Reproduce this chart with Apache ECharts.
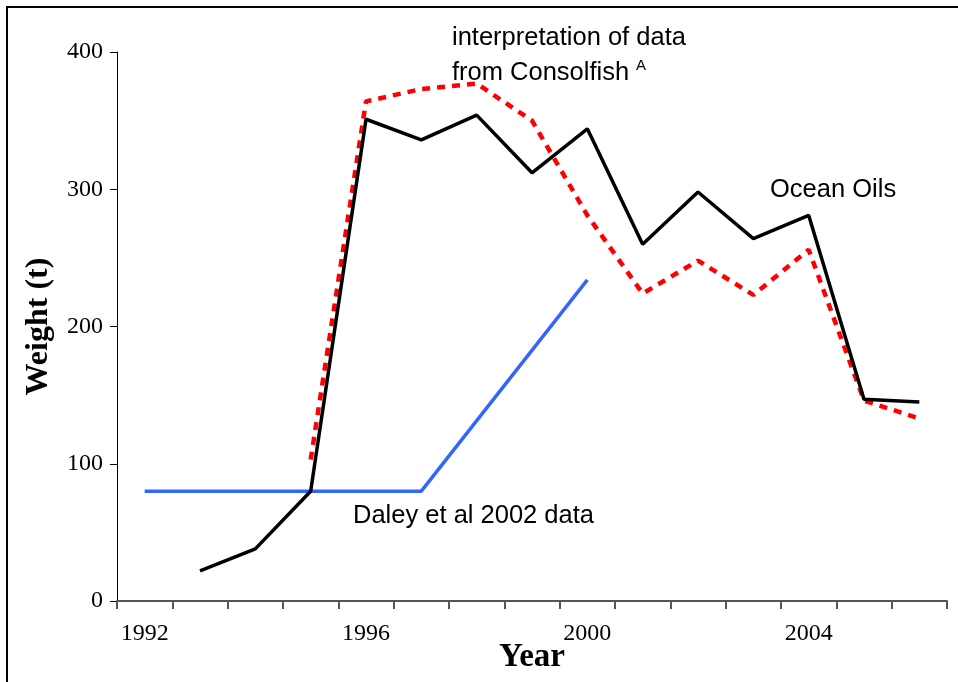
<!DOCTYPE html>
<html>
<head>
<meta charset="utf-8">
<script src="https://cdn.jsdelivr.net/npm/echarts@6/dist/echarts.min.js"></script>
<style>
  html, body { margin: 0; padding: 0; background: #fff; }
  #chart { width: 958px; height: 682px; }
</style>
</head>
<body>
<div id="chart"></div>
<script>
// years on the category axis
var years = ['1992', '1993', '1994', '1995', '1996', '1997', '1998', '1999',
             '2000', '2001', '2002', '2003', '2004', '2005', '2006'];

// Ocean Oils (solid black)
var oceanOils = [null, 22, 38, 80, 351, 336, 354, 312, 344, 260, 298, 264, 281, 147, 145];

// interpretation of data from Consolfish (red dashed)
var consolfish = [null, null, null, 103, 364, 373, 377, 350, 281, 224, 248, 223, 256, 146, 133];

// Daley et al 2002 data (blue), straight run 1997 -> 2000
var daley = [80, 80, 80, 80, 80, 80, null, null, 234, null, null, null, null, null, null];

var yTicks = [0, 100, 200, 300, 400];

var chart = echarts.init(document.getElementById('chart'));

var serif = '"Liberation Serif", "Times New Roman", serif';
var sans = '"Liberation Sans", Arial, sans-serif';

chart.setOption({
    animation: false,
    grid: { left: 117, right: 11, top: 52, bottom: 81, outerBoundsMode: 'none', containLabel: false },
    xAxis: {
        type: 'category',
        data: years,
        boundaryGap: true,
        name: 'Year',
        nameLocation: 'middle',
        nameGap: 40,
        nameMoveOverlap: false,
        nameTextStyle: { fontFamily: serif, fontWeight: 'bold', fontSize: 33, color: '#000' },
        axisLine: { lineStyle: { color: '#555', width: 2 } },
        axisTick: { show: true, interval: 0, length: 8, lineStyle: { color: '#555', width: 2 } },
        axisLabel: { interval: 3, margin: 21, fontFamily: serif, fontSize: 24, color: '#000' },
        splitLine: { show: false }
    },
    yAxis: {
        type: 'value',
        min: yTicks[0],
        max: yTicks[yTicks.length - 1],
        interval: 100,
        name: 'Weight (t)',
        nameLocation: 'middle',
        nameGap: 62,
        nameRotate: 90,
        nameMoveOverlap: false,
        nameTextStyle: { fontFamily: serif, fontWeight: 'bold', fontSize: 32, color: '#000' },
        axisLine: { show: true, lineStyle: { color: '#000', width: 1 } },
        axisTick: { show: true, length: 7, lineStyle: { color: '#000' } },
        axisLabel: { margin: 14, fontFamily: serif, fontSize: 24, color: '#000' },
        splitLine: { show: false }
    },
    series: [
        {
            name: 'Daley et al 2002 data',
            type: 'line',
            data: daley,
            connectNulls: true,
            symbol: 'none',
            lineStyle: { color: '#3366ff', width: 3.5 },
            z: 2
        },
        {
            name: 'interpretation of data from Consolfish',
            type: 'line',
            data: consolfish,
            symbol: 'none',
            lineStyle: { color: '#ff0000', width: 4.5, type: [8, 7] },
            z: 3
        },
        {
            name: 'Ocean Oils',
            type: 'line',
            data: oceanOils,
            symbol: 'none',
            lineStyle: { color: '#000', width: 3.5 },
            z: 4
        }
    ],
    graphic: [
        {
            type: 'rect',
            shape: { x: 7, y: 7, width: 960, height: 690 },
            style: { fill: 'none', stroke: '#000', lineWidth: 2 },
            silent: true
        },
        {
            type: 'text', left: 452, top: 25,
            style: { text: 'interpretation of data', font: '25.5px ' + sans, fill: '#000' }
        },
        {
            type: 'text', left: 452, top: 60,
            style: { text: 'from Consolfish', font: '25.5px ' + sans, fill: '#000' }
        },
        {
            type: 'text', left: 636, top: 58,
            style: { text: 'A', font: '15px ' + sans, fill: '#000' }
        },
        {
            type: 'text', left: 770, top: 177,
            style: { text: 'Ocean Oils', font: '25.5px ' + sans, fill: '#000' }
        },
        {
            type: 'text', left: 353, top: 503,
            style: { text: 'Daley et al 2002 data', font: '25.5px ' + sans, fill: '#000' }
        }
    ]
});
</script>
</body>
</html>
